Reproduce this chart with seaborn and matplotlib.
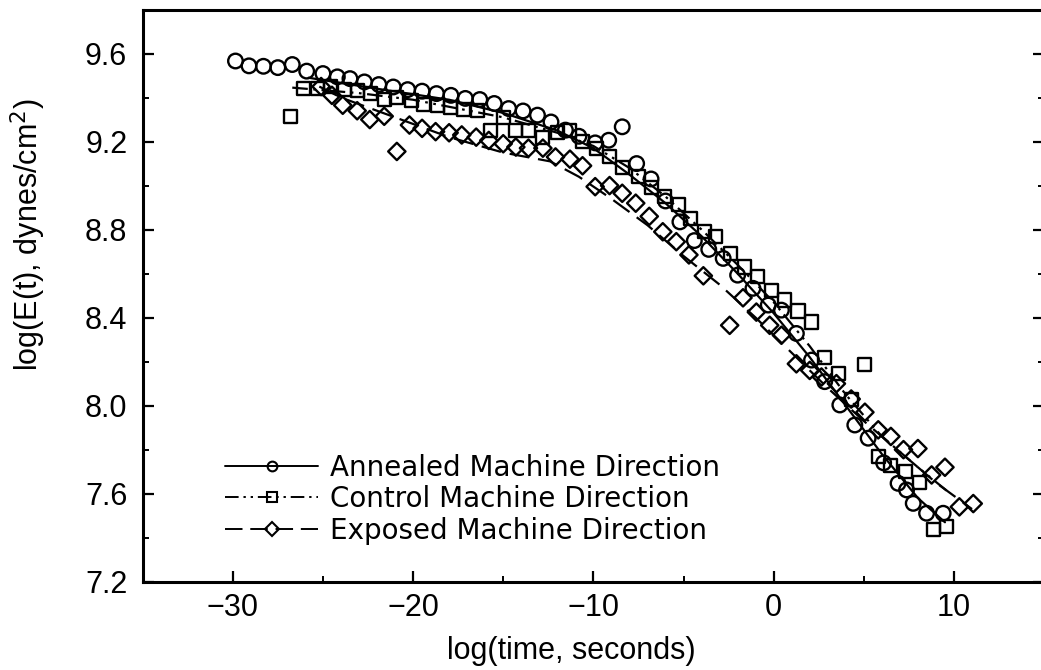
import matplotlib
matplotlib.use("Agg")
import matplotlib.pyplot as plt
import pandas as pd
import seaborn as sns
from matplotlib.lines import Line2D
from matplotlib.ticker import MultipleLocator

# ---- measured relaxation modulus data (shifted master curves) ----
annealed_x = [-29.85, -29.1, -28.3, -27.5, -26.7, -25.9, -25.0, -24.2, -23.5, -22.7,
              -21.9, -21.1, -20.3, -19.5, -18.7, -17.9, -17.1, -16.3, -15.5, -14.7,
              -13.9, -13.1, -12.35, -11.55, -10.8, -9.9, -9.15, -8.4, -7.6, -6.8,
              -6.0, -5.2, -4.4, -3.6, -2.8, -2.0, -1.15, -0.3, 0.43, 1.26,
              2.1, 2.83, 3.67, 4.5, 5.24, 6.1, 6.9, 7.37, 7.74, 8.48, 9.4]
annealed_y = [9.566, 9.544, 9.542, 9.536, 9.55, 9.52, 9.509, 9.494, 9.486, 9.471,
              9.459, 9.448, 9.436, 9.429, 9.418, 9.41, 9.396, 9.391, 9.373, 9.35,
              9.339, 9.32, 9.289, 9.252, 9.224, 9.194, 9.206, 9.267, 9.10, 9.03,
              8.93, 8.835, 8.75, 8.71, 8.669, 8.593, 8.533, 8.457, 8.434, 8.328,
              8.207, 8.109, 8.003, 7.912, 7.852, 7.74, 7.647, 7.617, 7.556, 7.511, 7.511]

control_x = [-26.8, -26.1, -25.3, -24.6, -23.8, -23.1, -22.35, -21.6, -20.9, -20.1,
             -19.4, -18.65, -17.9, -17.2, -16.4, -15.7, -15.0, -14.3, -13.6, -12.8,
             -12.0, -11.3, -10.6, -9.85, -9.1, -8.4, -7.5, -6.8, -6.05, -5.3,
             -4.6, -3.85, -3.2, -2.4, -1.6, -0.87, -0.13, 0.61, 1.35, 2.1,
             2.83, 3.57, 4.3, 5.06, 5.8, 6.5, 7.3, 8.1, 8.85, 9.6]
control_y = [9.315, 9.44, 9.44, 9.45, 9.435, 9.43, 9.42, 9.39, 9.40, 9.385,
             9.37, 9.365, 9.355, 9.345, 9.34, 9.25, 9.31, 9.25, 9.25, 9.22,
             9.24, 9.25, 9.20, 9.17, 9.13, 9.08, 9.04, 8.99, 8.95, 8.915,
             8.85, 8.79, 8.77, 8.69, 8.63, 8.585, 8.525, 8.48, 8.43, 8.38,
             8.22, 8.145, 8.03, 8.185, 7.77, 7.73, 7.70, 7.65, 7.435, 7.45]

exposed_x = [-25.1, -24.5, -23.9, -23.1, -22.4, -21.6, -20.9, -20.2, -19.5, -18.75,
             -18.0, -17.3, -16.5, -15.8, -15.0, -14.3, -13.6, -12.8, -12.1, -11.3,
             -10.6, -9.9, -9.1, -8.4, -7.65, -6.9, -6.15, -5.4, -4.7, -3.9,
             -2.44, -1.7, -0.96, -0.22, 0.43, 1.26, 2.0, 2.65, 3.48, 4.3,
             5.06, 5.8, 6.5, 7.2, 8.0, 8.76, 9.5, 10.3, 11.07]
exposed_y = [9.45, 9.41, 9.365, 9.34, 9.30, 9.315, 9.155, 9.275, 9.26, 9.245,
             9.24, 9.23, 9.22, 9.205, 9.19, 9.175, 9.17, 9.17, 9.13, 9.12,
             9.09, 8.995, 9.00, 8.965, 8.92, 8.86, 8.79, 8.745, 8.685, 8.59,
             8.365, 8.49, 8.425, 8.365, 8.32, 8.19, 8.16, 8.13, 8.10, 8.03,
             7.97, 7.89, 7.86, 7.80, 7.805, 7.685, 7.72, 7.54, 7.555]

# ---- fitted master curves ----
annealed_fit_x = [-25.8, -22, -18, -15, -12, -10, -8, -6, -4, -2, 0, 2, 4, 6, 8, 9.5]
annealed_fit_y = [9.49, 9.44, 9.39, 9.33, 9.25, 9.17, 9.05, 8.92, 8.77, 8.60, 8.42,
                  8.22, 8.00, 7.78, 7.58, 7.47]

control_fit_x = [-26.7, -23, -20, -15, -12, -10, -8, -6, -4, -2, 0, 2, 4, 6, 8, 9.8]
control_fit_y = [9.445, 9.42, 9.39, 9.31, 9.24, 9.18, 9.08, 8.95, 8.80, 8.64, 8.47,
                 8.27, 8.05, 7.86, 7.72, 7.60]

exposed_fit_x = [-25.2, -24, -21, -18, -15, -12.4, -10.8, -9, -7, -5, -3, -1, 1, 3,
                 5, 7, 9, 11]
exposed_fit_y = [9.45, 9.40, 9.31, 9.22, 9.15, 9.11, 9.04, 8.94, 8.82, 8.68, 8.55,
                 8.40, 8.24, 8.08, 7.93, 7.79, 7.65, 7.53]

labels = ["Annealed Machine Direction", "Control Machine Direction",
          "Exposed Machine Direction"]
x_ticks = [-30, -20, -10, 0, 10]
y_ticks = [7.2, 7.6, 8.0, 8.4, 8.8, 9.2, 9.6]

sns.set_theme(style="white")
plt.rcParams["font.family"] = ["Liberation Sans", "DejaVu Sans"]

fig = plt.figure(figsize=(10.41, 6.70), dpi=100)
ax = fig.add_axes([0.137, 0.1318, 0.866, 0.854])

dash_dot_dot = (0, (7, 2.5, 1.2, 2.5, 1.2, 2.5))
long_dash = (0, (9, 4))
styles = [
    ("o", "-", annealed_x, annealed_y, annealed_fit_x, annealed_fit_y, 110),
    ("s", dash_dot_dot, control_x, control_y, control_fit_x, control_fit_y, 88),
    ("D", long_dash, exposed_x, exposed_y, exposed_fit_x, exposed_fit_y, 78),
]

handles = []
for (mk, ls, px, py, fx, fy, size), lab in zip(styles, labels):
    fit = pd.DataFrame({"t": fx, "E": fy})
    sns.lineplot(data=fit, x="t", y="E", ax=ax, color="black", linewidth=1.6,
                 linestyle=ls, sort=False, zorder=2)
    pts = pd.DataFrame({"t": px, "E": py})
    sns.scatterplot(data=pts, x="t", y="E", ax=ax, marker=mk, s=size,
                    facecolor="none", edgecolor="black", linewidth=1.7, zorder=3)
    handles.append(Line2D([], [], color="black", linestyle=ls, linewidth=1.4,
                          marker=mk, markersize=7, markerfacecolor="none",
                          markeredgecolor="black", markeredgewidth=1.5))

ax.set_xlim(-35, 15)
ax.set_ylim(7.2, 9.8)
ax.set_xticks(x_ticks)
ax.set_yticks(y_ticks)
ax.set_xticklabels([f"{v:d}".replace("-", "\u2212") for v in x_ticks])
ax.set_yticklabels([f"{v:.1f}" for v in y_ticks])
ax.xaxis.set_minor_locator(MultipleLocator(5))
ax.yaxis.set_minor_locator(MultipleLocator(0.2))

ax.tick_params(axis="both", which="both", direction="in", color="black",
               bottom=True, left=True, right=True, top=False)
ax.tick_params(axis="both", which="major", length=8, width=1.6, labelsize=22,
               labelcolor="black")
ax.tick_params(axis="both", which="minor", length=4.5, width=1.4)
ax.tick_params(axis="y", which="major", pad=11)
ax.tick_params(axis="x", which="major", pad=8)

for side in ["left", "bottom", "right", "top"]:
    ax.spines[side].set_visible(True)
    ax.spines[side].set_color("black")
    ax.spines[side].set_linewidth(2.2)

ax.set_xlabel("log(time, seconds)", fontsize=22, color="black")
ax.set_ylabel("log(E(t), dynes/cm$^2$)", fontsize=22, color="black")
ax.xaxis.set_label_coords(0.476, -0.095)
ax.yaxis.set_label_coords(-0.105, 0.606)
ax.grid(False)

leg = ax.legend(handles, labels, loc="upper left", bbox_to_anchor=(0.07, 0.258),
                frameon=False, prop={"family": "DejaVu Sans", "size": 20},
                handlelength=3.35, handletextpad=0.42,
                labelspacing=0.13, borderpad=0.2)
for t in leg.get_texts():
    t.set_color("black")

fig.savefig("out.png", dpi=100, facecolor="white")
